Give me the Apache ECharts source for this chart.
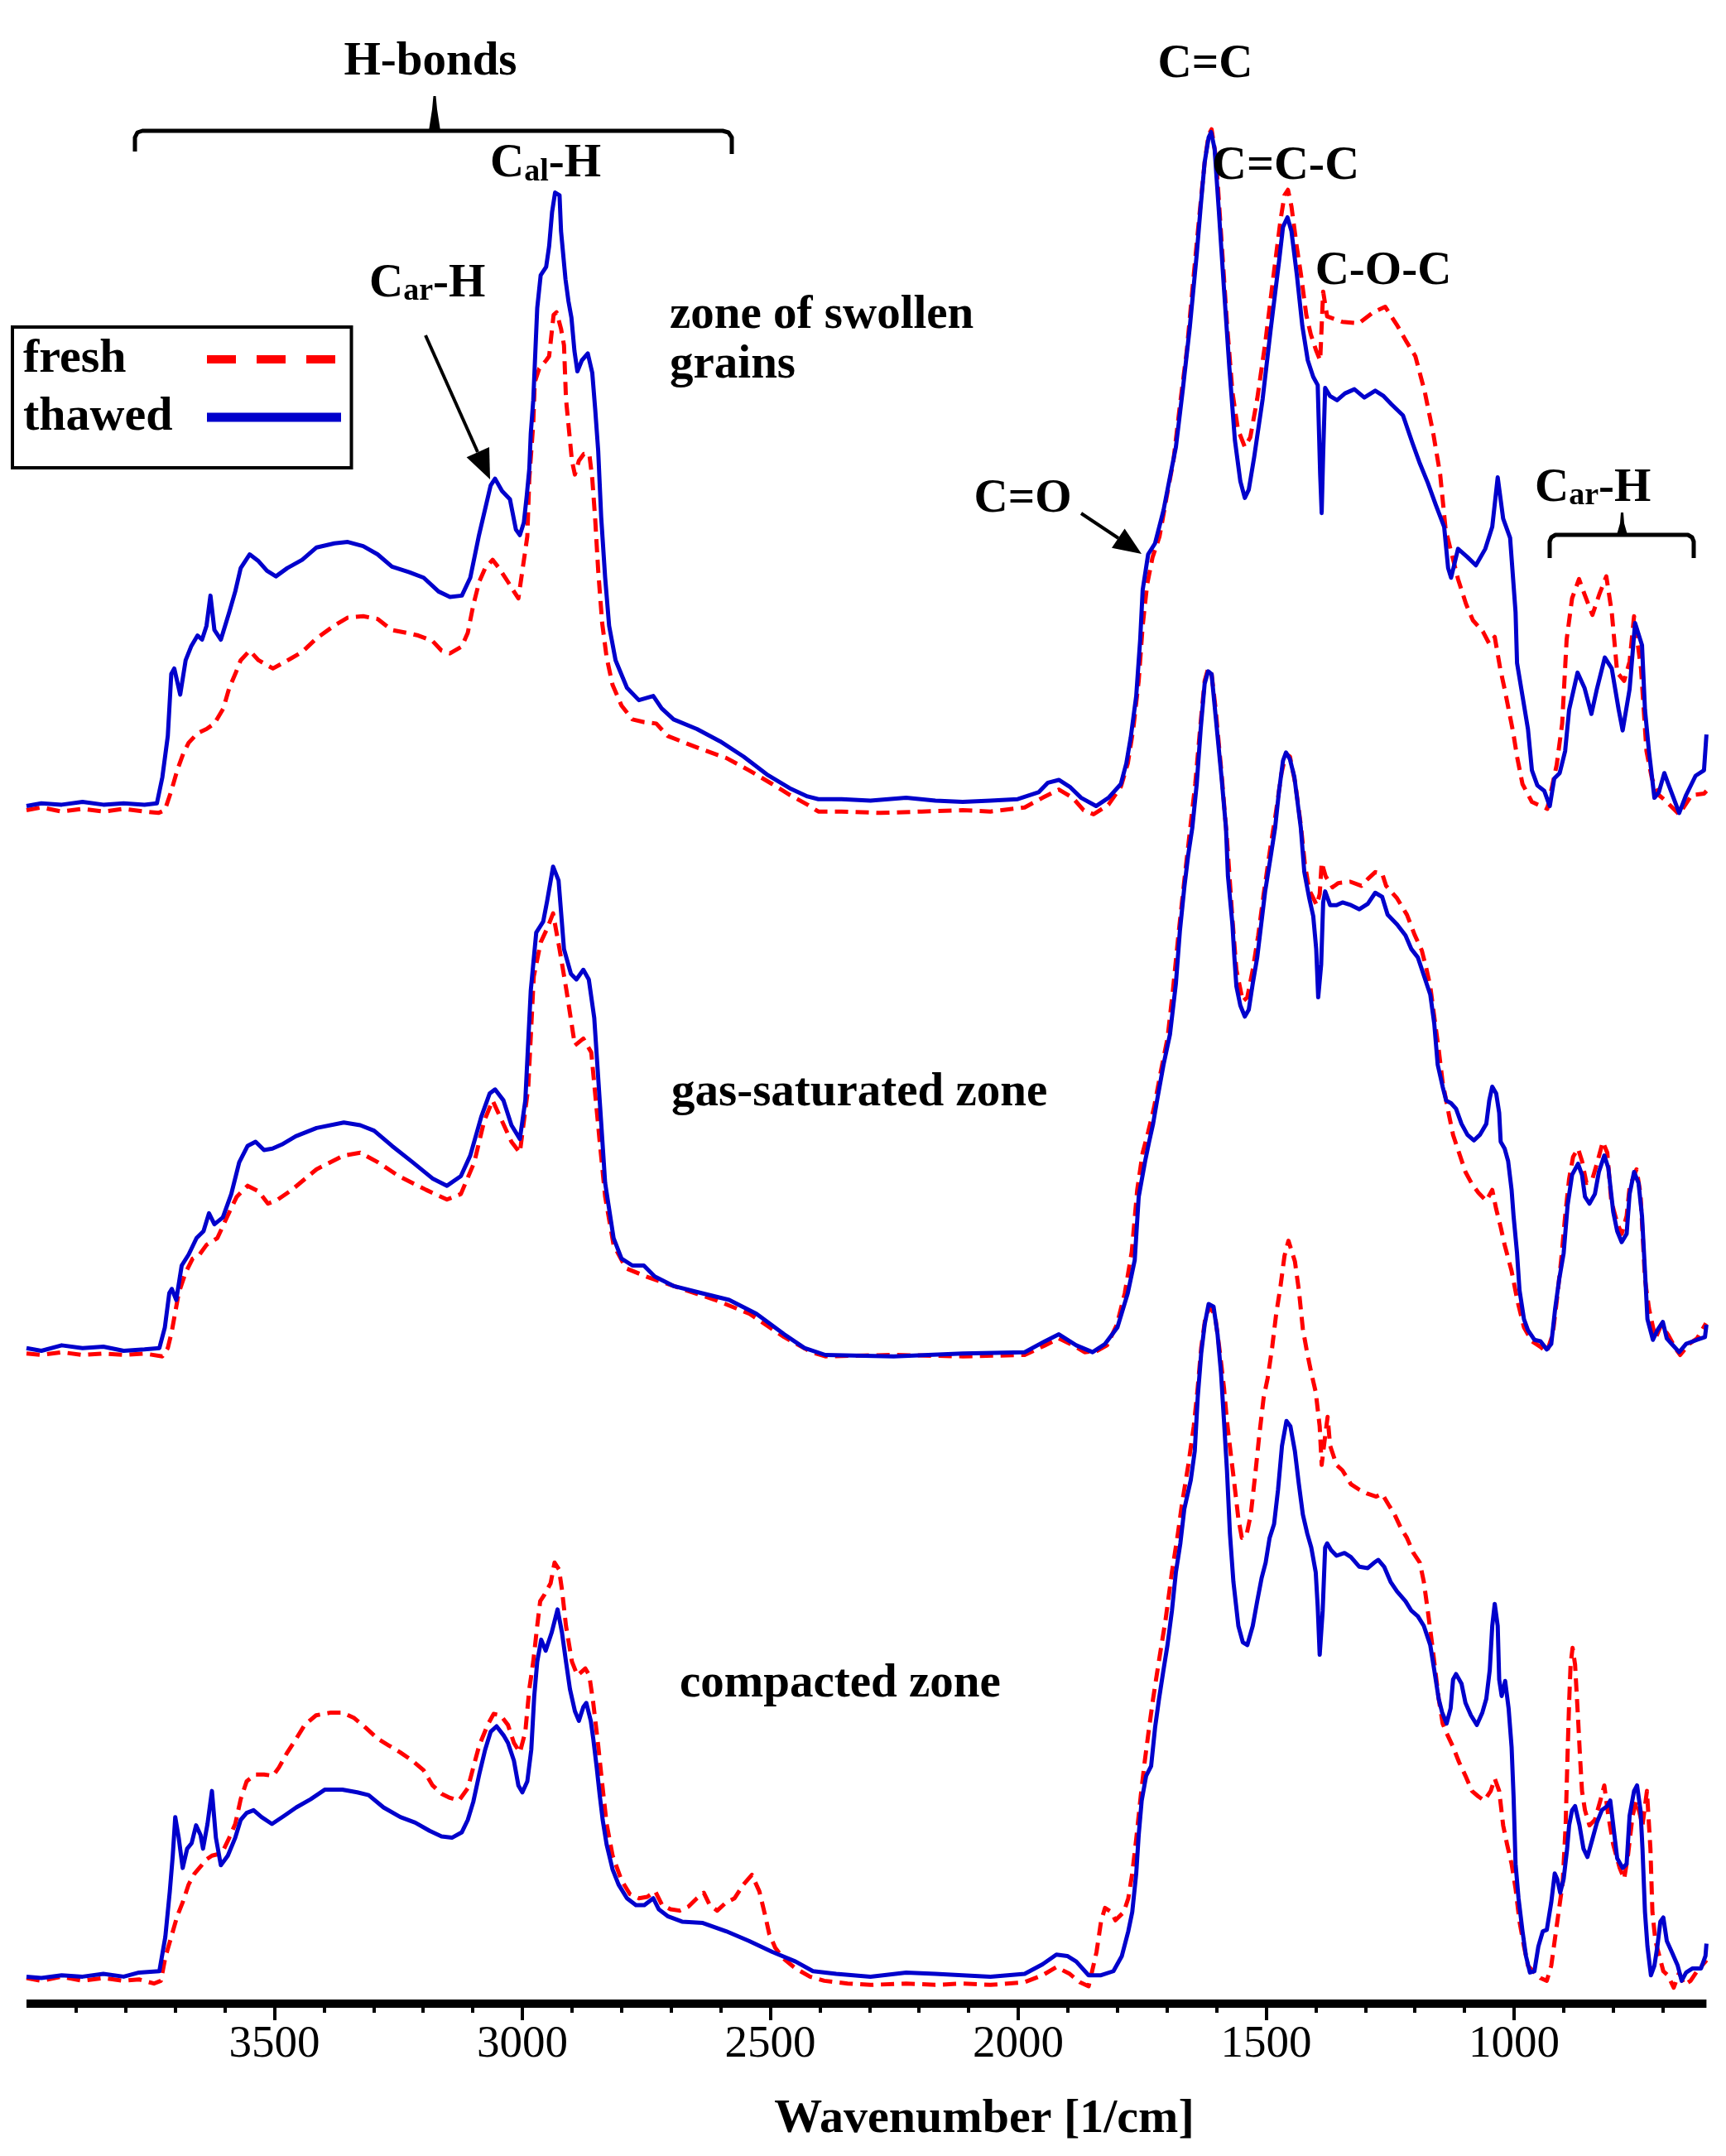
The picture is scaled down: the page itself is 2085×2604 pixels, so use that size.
<!DOCTYPE html>
<html><head><meta charset="utf-8">
<script src="https://cdn.jsdelivr.net/npm/echarts@6/dist/echarts.min.js"></script>
<style>html,body{margin:0;padding:0;background:#fff}#c{width:2085px;height:2604px}</style>
</head><body><div id="c"></div>
<script>
// ---- x axis ticks (wavenumber, 1/cm) ----
const majorTicks = [1000, 1500, 2000, 2500, 3000, 3500];
const minorTicks = [700, 800, 900, 1100, 1200, 1300, 1400, 1600, 1700, 1800, 1900, 2100, 2200, 2300, 2400, 2600, 2700, 2800, 2900, 3100, 3200, 3300, 3400, 3600, 3700, 3800, 3900];
const legendNames = ['fresh', 'thawed'];
const panelLabels = ['zone of swollen grains', 'gas-saturated zone', 'compacted zone'];

// ---- zone of swollen grains ----
const swollenFresh = [[4000,0.01],[3970,0.03],[3929,0.00],[3887,0.02],[3845,0.00],[3804,0.02],[3762,0.00],[3734,-0.01],[3721,0.01],[3708,0.15],[3696,0.30],[3684,0.42],[3673,0.50],[3655,0.57],[3637,0.60],[3621,0.64],[3603,0.75],[3591,0.90],[3579,1.00],[3568,1.10],[3550,1.17],[3532,1.10],[3503,1.04],[3468,1.11],[3444,1.16],[3415,1.26],[3380,1.35],[3352,1.41],[3321,1.42],[3292,1.40],[3263,1.32],[3234,1.30],[3210,1.28],[3181,1.24],[3163,1.17],[3146,1.15],[3122,1.20],[3110,1.30],[3099,1.50],[3087,1.67],[3075,1.77],[3060,1.83],[3047,1.77],[3029,1.67],[3017,1.60],[3008,1.55],[3000,1.75],[2990,2.00],[2986,2.42],[2978,2.82],[2975,3.12],[2966,3.22],[2952,3.28],[2946,3.31],[2940,3.51],[2937,3.61],[2931,3.63],[2922,3.51],[2916,3.39],[2912,3.00],[2900,2.55],[2894,2.45],[2886,2.55],[2876,2.60],[2865,2.60],[2859,2.42],[2853,2.12],[2847,1.75],[2839,1.37],[2830,1.12],[2818,0.92],[2800,0.77],[2778,0.67],[2754,0.65],[2730,0.64],[2707,0.55],[2672,0.50],[2636,0.45],[2589,0.39],[2543,0.30],[2496,0.20],[2460,0.12],[2425,0.05],[2403,0.00],[2356,0.00],[2278,-0.01],[2195,0.00],[2112,0.01],[2056,0.00],[1987,0.03],[1951,0.10],[1918,0.16],[1890,0.10],[1868,0.01],[1848,-0.02],[1818,0.05],[1793,0.18],[1779,0.35],[1768,0.60],[1757,0.95],[1749,1.35],[1740,1.65],[1729,1.85],[1715,2.00],[1701,2.28],[1687,2.55],[1674,2.95],[1660,3.35],[1646,3.90],[1635,4.32],[1624,4.72],[1616,4.92],[1610,4.96],[1601,4.75],[1590,4.15],[1579,3.55],[1568,3.05],[1557,2.78],[1543,2.65],[1532,2.72],[1518,3.00],[1502,3.40],[1485,3.90],[1471,4.30],[1463,4.48],[1456,4.52],[1449,4.40],[1438,4.10],[1430,3.91],[1419,3.61],[1410,3.47],[1399,3.35],[1391,3.28],[1385,3.78],[1377,3.60],[1346,3.56],[1313,3.55],[1284,3.63],[1260,3.67],[1235,3.53],[1216,3.41],[1199,3.31],[1180,3.05],[1163,2.75],[1149,2.45],[1138,2.05],[1127,1.89],[1113,1.69],[1097,1.51],[1083,1.39],[1063,1.31],[1050,1.22],[1039,1.27],[1028,1.04],[1019,0.89],[1002,0.58],[994,0.40],[983,0.20],[964,0.07],[933,0.02],[914,0.34],[903,0.64],[894,1.25],[883,1.55],[869,1.69],[858,1.58],[842,1.43],[828,1.58],[814,1.71],[803,1.45],[792,1.01],[778,0.95],[767,1.09],[758,1.42],[744,1.04],[733,0.44],[722,0.24],[708,0.12],[695,0.08],[667,-0.02],[642,0.12],[617,0.13],[612,0.15]];
const swollenThawed = [[4000,0.04],[3970,0.06],[3929,0.05],[3887,0.07],[3845,0.05],[3804,0.06],[3762,0.05],[3737,0.06],[3726,0.25],[3715,0.55],[3708,1.00],[3702,1.04],[3690,0.85],[3679,1.10],[3668,1.20],[3655,1.28],[3646,1.25],[3637,1.35],[3629,1.57],[3621,1.32],[3608,1.25],[3591,1.45],[3579,1.60],[3568,1.77],[3550,1.87],[3532,1.82],[3515,1.75],[3497,1.71],[3474,1.77],[3444,1.83],[3415,1.92],[3379,1.95],[3352,1.96],[3321,1.93],[3292,1.87],[3263,1.78],[3228,1.74],[3199,1.70],[3169,1.60],[3146,1.56],[3122,1.57],[3105,1.70],[3088,2.00],[3075,2.20],[3064,2.37],[3055,2.42],[3041,2.33],[3025,2.27],[3013,2.05],[3005,2.01],[2997,2.10],[2991,2.30],[2986,2.49],[2983,2.75],[2978,2.99],[2975,3.24],[2970,3.66],[2963,3.90],[2952,3.96],[2946,4.11],[2940,4.36],[2934,4.50],[2925,4.48],[2922,4.22],[2913,3.87],[2907,3.71],[2901,3.59],[2895,3.35],[2889,3.20],[2880,3.28],[2868,3.33],[2859,3.19],[2853,2.92],[2847,2.62],[2841,2.14],[2833,1.70],[2825,1.35],[2812,1.10],[2789,0.90],[2765,0.81],[2736,0.84],[2719,0.75],[2695,0.67],[2648,0.60],[2601,0.51],[2554,0.40],[2507,0.27],[2461,0.17],[2425,0.11],[2403,0.09],[2356,0.09],[2298,0.08],[2226,0.10],[2167,0.08],[2112,0.07],[2056,0.08],[2001,0.09],[1959,0.14],[1940,0.21],[1918,0.23],[1896,0.18],[1873,0.10],[1843,0.04],[1818,0.10],[1793,0.20],[1782,0.35],[1773,0.54],[1762,0.84],[1754,1.25],[1749,1.61],[1738,1.87],[1724,1.95],[1707,2.19],[1693,2.45],[1682,2.65],[1668,3.07],[1654,3.52],[1640,4.05],[1632,4.40],[1624,4.72],[1616,4.90],[1611,4.94],[1604,4.82],[1596,4.40],[1585,3.80],[1574,3.22],[1563,2.70],[1552,2.40],[1543,2.28],[1535,2.34],[1524,2.58],[1507,3.00],[1491,3.50],[1474,4.00],[1466,4.25],[1457,4.32],[1449,4.22],[1438,3.90],[1427,3.53],[1416,3.28],[1405,3.16],[1396,3.10],[1391,2.45],[1388,2.17],[1385,2.60],[1381,3.08],[1371,3.02],[1357,2.99],[1341,3.04],[1322,3.07],[1302,3.01],[1280,3.06],[1263,3.02],[1247,2.96],[1224,2.88],[1205,2.68],[1191,2.54],[1174,2.39],[1158,2.23],[1141,2.07],[1133,1.77],[1127,1.70],[1113,1.91],[1094,1.85],[1077,1.79],[1058,1.91],[1044,2.07],[1033,2.43],[1022,2.13],[1008,1.99],[997,1.45],[994,1.08],[983,0.84],[972,0.60],[964,0.30],[953,0.19],[939,0.15],[928,0.04],[919,0.24],[908,0.28],[897,0.44],[889,0.74],[872,1.01],[858,0.90],[844,0.71],[833,0.89],[817,1.12],[803,1.04],[789,0.74],[781,0.59],[767,0.89],[756,1.37],[742,1.21],[736,0.74],[728,0.44],[717,0.10],[708,0.14],[697,0.28],[689,0.20],[667,-0.01],[653,0.12],[634,0.26],[617,0.30],[612,0.56]];

// ---- gas-saturated zone ----
const gasFresh = [[4000,0.01],[3970,0.00],[3929,0.02],[3887,0.00],[3845,0.01],[3804,0.00],[3762,0.01],[3726,-0.01],[3715,0.05],[3707,0.17],[3693,0.45],[3679,0.60],[3665,0.70],[3651,0.73],[3637,0.80],[3615,0.85],[3596,1.00],[3576,1.15],[3554,1.23],[3532,1.19],[3513,1.10],[3493,1.13],[3465,1.20],[3415,1.35],[3360,1.45],[3327,1.47],[3291,1.40],[3249,1.30],[3194,1.20],[3152,1.13],[3124,1.17],[3097,1.40],[3077,1.70],[3060,1.85],[3041,1.70],[3022,1.55],[3005,1.47],[2988,1.95],[2977,2.75],[2963,3.00],[2950,3.10],[2938,3.21],[2925,2.95],[2911,2.65],[2894,2.25],[2877,2.30],[2861,2.20],[2844,1.55],[2833,1.15],[2816,0.80],[2791,0.63],[2750,0.57],[2694,0.50],[2611,0.40],[2542,0.30],[2472,0.13],[2417,0.02],[2389,-0.01],[2251,0.00],[2112,-0.01],[1987,0.00],[1946,0.07],[1918,0.12],[1884,0.06],[1866,0.02],[1841,0.03],[1821,0.07],[1801,0.22],[1785,0.45],[1771,0.75],[1760,1.20],[1749,1.47],[1738,1.62],[1726,1.80],[1713,2.05],[1699,2.30],[1688,2.65],[1677,3.05],[1665,3.45],[1654,3.80],[1643,4.15],[1632,4.60],[1624,4.90],[1617,4.99],[1610,4.95],[1602,4.70],[1590,4.23],[1579,3.75],[1568,3.17],[1560,2.80],[1547,2.57],[1538,2.60],[1527,2.80],[1516,3.05],[1505,3.35],[1491,3.70],[1480,3.95],[1469,4.23],[1460,4.37],[1452,4.35],[1441,4.15],[1430,3.85],[1422,3.57],[1413,3.38],[1406,3.33],[1398,3.27],[1392,3.35],[1388,3.58],[1380,3.48],[1366,3.40],[1355,3.43],[1330,3.44],[1308,3.41],[1295,3.46],[1280,3.51],[1266,3.50],[1258,3.41],[1236,3.32],[1216,3.20],[1200,3.05],[1186,2.94],[1177,2.81],[1169,2.68],[1161,2.46],[1152,2.22],[1144,1.98],[1131,1.74],[1123,1.60],[1111,1.47],[1098,1.33],[1086,1.25],[1072,1.18],[1056,1.12],[1044,1.20],[1036,1.06],[1027,0.93],[1019,0.80],[1005,0.61],[993,0.39],[980,0.20],[964,0.10],[947,0.06],[934,0.02],[922,0.15],[914,0.39],[905,0.69],[897,1.01],[889,1.28],[881,1.44],[871,1.50],[863,1.41],[854,1.25],[842,1.28],[833,1.39],[821,1.55],[812,1.47],[804,1.12],[792,0.96],[783,0.88],[773,1.01],[767,1.22],[753,1.35],[745,1.17],[736,0.55],[728,0.34],[715,0.12],[703,0.22],[690,0.15],[673,0.04],[665,0.00],[647,0.08],[631,0.12],[613,0.23]];
const gasThawed = [[4000,0.05],[3970,0.03],[3929,0.07],[3887,0.05],[3845,0.06],[3804,0.03],[3762,0.04],[3732,0.05],[3721,0.20],[3712,0.45],[3707,0.48],[3698,0.40],[3687,0.65],[3673,0.73],[3657,0.85],[3643,0.90],[3632,1.03],[3621,0.95],[3604,1.00],[3587,1.17],[3571,1.40],[3554,1.52],[3538,1.55],[3521,1.49],[3504,1.50],[3485,1.53],[3457,1.59],[3415,1.65],[3360,1.69],[3327,1.67],[3299,1.63],[3263,1.52],[3221,1.40],[3180,1.28],[3152,1.23],[3124,1.30],[3105,1.45],[3083,1.73],[3066,1.90],[3055,1.93],[3038,1.85],[3022,1.67],[3005,1.57],[2994,1.85],[2983,2.65],[2972,3.07],[2958,3.15],[2950,3.30],[2938,3.55],[2927,3.45],[2916,2.95],[2902,2.77],[2891,2.73],[2877,2.80],[2866,2.73],[2855,2.45],[2844,1.85],[2833,1.25],[2816,0.85],[2800,0.70],[2778,0.65],[2755,0.65],[2733,0.57],[2694,0.50],[2639,0.45],[2583,0.40],[2528,0.30],[2472,0.15],[2431,0.05],[2389,0.00],[2251,-0.01],[2112,0.01],[1987,0.02],[1946,0.10],[1918,0.15],[1883,0.07],[1850,0.02],[1825,0.08],[1800,0.20],[1779,0.45],[1765,0.69],[1757,1.15],[1744,1.41],[1736,1.55],[1728,1.68],[1720,1.85],[1707,2.11],[1694,2.33],[1682,2.70],[1674,3.08],[1665,3.40],[1657,3.64],[1649,3.83],[1640,4.15],[1632,4.55],[1624,4.88],[1617,4.97],[1610,4.95],[1602,4.65],[1590,4.20],[1581,3.83],[1577,3.48],[1568,3.13],[1564,2.89],[1560,2.68],[1552,2.54],[1543,2.46],[1535,2.51],[1527,2.70],[1518,2.89],[1510,3.13],[1502,3.37],[1491,3.62],[1482,3.83],[1474,4.10],[1466,4.32],[1460,4.38],[1452,4.33],[1443,4.20],[1430,3.83],[1423,3.51],[1413,3.32],[1405,3.19],[1399,2.95],[1395,2.60],[1389,2.84],[1385,3.29],[1381,3.37],[1371,3.27],[1358,3.27],[1346,3.29],[1329,3.27],[1312,3.24],[1295,3.28],[1280,3.36],[1266,3.33],[1255,3.20],[1236,3.13],[1219,3.05],[1207,2.95],[1194,2.89],[1182,2.76],[1169,2.62],[1161,2.41],[1154,2.11],[1144,1.95],[1137,1.85],[1127,1.83],[1117,1.79],[1106,1.68],[1094,1.60],[1081,1.56],[1069,1.60],[1056,1.68],[1050,1.85],[1044,1.95],[1036,1.90],[1030,1.76],[1027,1.55],[1019,1.50],[1012,1.41],[1005,1.20],[1001,1.01],[994,0.74],[989,0.47],[980,0.26],[972,0.18],[959,0.11],[947,0.10],[934,0.04],[925,0.08],[917,0.34],[909,0.55],[900,0.74],[892,1.09],[883,1.31],[871,1.39],[863,1.31],[857,1.15],[848,1.10],[837,1.17],[829,1.33],[818,1.45],[810,1.36],[800,1.04],[792,0.90],[783,0.82],[773,0.88],[767,1.17],[758,1.33],[749,1.25],[742,1.01],[736,0.61],[731,0.26],[720,0.11],[711,0.18],[700,0.24],[692,0.12],[682,0.08],[667,0.02],[653,0.08],[631,0.11],[615,0.13],[612,0.22]];

// ---- compacted zone ----
const compFresh = [[4000,0.04],[3970,0.02],[3929,0.05],[3887,0.02],[3845,0.04],[3804,0.02],[3773,0.03],[3743,0.00],[3729,0.02],[3720,0.19],[3708,0.34],[3696,0.49],[3685,0.59],[3673,0.72],[3661,0.80],[3649,0.85],[3638,0.90],[3626,0.93],[3614,0.94],[3603,0.97],[3591,1.06],[3579,1.16],[3568,1.34],[3556,1.47],[3538,1.52],[3521,1.52],[3503,1.51],[3491,1.57],[3474,1.68],[3456,1.78],[3439,1.88],[3416,1.95],[3386,1.97],[3363,1.97],[3339,1.93],[3316,1.86],[3292,1.78],[3269,1.73],[3246,1.68],[3222,1.62],[3199,1.55],[3181,1.44],[3163,1.38],[3146,1.35],[3128,1.33],[3110,1.42],[3099,1.57],[3087,1.73],[3070,1.88],[3058,1.96],[3044,1.95],[3029,1.88],[3017,1.75],[3005,1.68],[2994,1.83],[2986,2.14],[2978,2.34],[2970,2.60],[2964,2.78],[2955,2.83],[2943,2.91],[2935,3.06],[2926,3.01],[2920,2.86],[2912,2.60],[2900,2.34],[2889,2.24],[2873,2.29],[2865,2.24],[2857,2.04],[2847,1.73],[2838,1.42],[2830,1.16],[2818,0.93],[2800,0.75],[2783,0.65],[2765,0.62],[2748,0.63],[2732,0.67],[2718,0.57],[2701,0.54],[2683,0.53],[2665,0.56],[2648,0.62],[2634,0.66],[2622,0.57],[2607,0.53],[2589,0.59],[2572,0.62],[2554,0.72],[2537,0.79],[2522,0.67],[2510,0.49],[2502,0.36],[2490,0.26],[2473,0.18],[2449,0.11],[2420,0.05],[2391,0.02],[2344,0.00],[2298,-0.01],[2226,0.00],[2167,-0.01],[2112,0.00],[2056,-0.01],[1987,0.01],[1951,0.06],[1923,0.12],[1896,0.07],[1876,0.01],[1858,-0.02],[1842,0.23],[1833,0.45],[1825,0.55],[1812,0.52],[1804,0.46],[1787,0.52],[1778,0.62],[1770,0.80],[1762,1.05],[1753,1.36],[1745,1.61],[1736,1.86],[1728,2.07],[1716,2.35],[1703,2.64],[1690,2.99],[1678,3.27],[1670,3.48],[1657,3.77],[1646,4.05],[1638,4.33],[1631,4.62],[1623,4.83],[1614,4.92],[1603,4.86],[1593,4.58],[1585,4.33],[1579,4.09],[1571,3.84],[1564,3.63],[1556,3.38],[1549,3.24],[1539,3.27],[1531,3.41],[1522,3.70],[1514,3.98],[1505,4.26],[1497,4.40],[1488,4.62],[1480,4.86],[1471,5.07],[1463,5.29],[1455,5.40],[1442,5.25],[1434,5.04],[1426,4.76],[1417,4.58],[1409,4.44],[1400,4.30],[1392,4.05],[1388,3.77],[1381,3.98],[1376,4.12],[1371,3.91],[1358,3.77],[1346,3.73],[1329,3.63],[1312,3.59],[1295,3.56],[1278,3.54],[1266,3.56],[1253,3.48],[1241,3.41],[1228,3.31],[1216,3.24],[1203,3.13],[1190,3.06],[1182,2.92],[1174,2.71],[1165,2.46],[1159,2.28],[1152,2.07],[1144,1.89],[1136,1.82],[1123,1.72],[1111,1.61],[1098,1.51],[1085,1.40],[1072,1.36],[1060,1.33],[1047,1.40],[1039,1.49],[1030,1.40],[1022,1.15],[1014,1.01],[1005,0.87],[997,0.69],[989,0.45],[980,0.27],[972,0.13],[959,0.08],[947,0.04],[934,0.02],[925,0.13],[917,0.34],[909,0.55],[902,0.73],[896,1.15],[892,1.68],[889,2.04],[886,2.32],[882,2.44],[877,2.32],[871,1.93],[867,1.65],[863,1.40],[857,1.26],[848,1.15],[837,1.19],[826,1.33],[818,1.44],[810,1.22],[800,1.01],[787,0.84],[778,0.76],[770,0.94],[761,1.22],[753,1.33],[741,1.15],[732,1.40],[725,0.98],[721,0.52],[715,0.31],[707,0.20],[699,0.09],[690,0.06],[678,-0.03],[667,0.08],[657,-0.01],[644,0.02],[631,0.09],[614,0.16],[612,0.17]];
const compThawed = [[4000,0.05],[3970,0.04],[3929,0.06],[3887,0.05],[3845,0.07],[3804,0.05],[3773,0.08],[3732,0.09],[3720,0.34],[3711,0.67],[3705,0.93],[3700,1.21],[3693,1.06],[3685,0.84],[3676,0.98],[3667,1.02],[3658,1.15],[3649,1.08],[3644,0.98],[3635,1.16],[3626,1.40],[3618,1.06],[3608,0.86],[3594,0.93],[3579,1.06],[3568,1.19],[3556,1.24],[3542,1.26],[3526,1.21],[3505,1.16],[3480,1.22],[3456,1.28],[3427,1.34],[3398,1.41],[3363,1.41],[3333,1.39],[3310,1.37],[3280,1.28],[3246,1.21],[3216,1.17],[3187,1.11],[3163,1.07],[3142,1.06],[3122,1.10],[3110,1.19],[3099,1.32],[3087,1.52],[3075,1.70],[3064,1.83],[3052,1.87],[3037,1.80],[3029,1.75],[3017,1.62],[3008,1.44],[3000,1.39],[2990,1.47],[2982,1.70],[2976,2.09],[2970,2.34],[2962,2.50],[2953,2.42],[2941,2.55],[2929,2.72],[2920,2.55],[2912,2.34],[2904,2.14],[2894,1.98],[2886,1.91],[2877,2.01],[2871,2.04],[2862,1.91],[2857,1.78],[2850,1.57],[2844,1.37],[2838,1.19],[2830,1.01],[2818,0.83],[2806,0.72],[2789,0.62],[2771,0.57],[2754,0.57],[2736,0.62],[2725,0.54],[2707,0.49],[2678,0.45],[2636,0.44],[2589,0.38],[2543,0.31],[2496,0.23],[2449,0.16],[2414,0.09],[2367,0.07],[2298,0.05],[2226,0.08],[2167,0.07],[2112,0.06],[2056,0.05],[1987,0.07],[1951,0.14],[1923,0.21],[1901,0.20],[1883,0.16],[1858,0.06],[1833,0.06],[1808,0.09],[1791,0.20],[1778,0.38],[1770,0.52],[1762,0.80],[1757,1.08],[1751,1.33],[1742,1.51],[1732,1.58],[1724,1.86],[1716,2.07],[1707,2.28],[1699,2.46],[1690,2.71],[1682,2.99],[1673,3.20],[1665,3.45],[1652,3.66],[1644,3.87],[1638,4.26],[1631,4.58],[1624,4.79],[1616,4.94],[1606,4.92],[1598,4.72],[1591,4.44],[1585,4.09],[1579,3.73],[1573,3.27],[1566,2.92],[1556,2.60],[1547,2.48],[1538,2.46],[1527,2.60],[1518,2.78],[1509,2.95],[1501,3.06],[1493,3.24],[1484,3.34],[1476,3.59],[1468,3.91],[1459,4.09],[1451,4.05],[1442,3.87],[1434,3.63],[1426,3.41],[1417,3.27],[1409,3.17],[1400,2.99],[1396,2.74],[1392,2.39],[1386,2.71],[1381,3.17],[1377,3.20],[1369,3.15],[1358,3.11],[1342,3.13],[1329,3.10],[1312,3.03],[1295,3.02],[1282,3.06],[1274,3.08],[1262,3.03],[1249,2.92],[1236,2.85],[1219,2.78],[1207,2.71],[1194,2.67],[1182,2.60],[1169,2.46],[1161,2.28],[1152,2.07],[1145,1.97],[1136,1.89],[1128,2.00],[1123,2.21],[1117,2.25],[1106,2.18],[1098,2.04],[1087,1.95],[1075,1.88],[1064,1.97],[1056,2.07],[1049,2.28],[1044,2.60],[1039,2.76],[1033,2.60],[1030,2.21],[1025,2.09],[1018,2.20],[1011,2.00],[1005,1.72],[1001,1.36],[997,0.87],[991,0.62],[983,0.38],[976,0.20],[968,0.08],[959,0.09],[951,0.27],[942,0.38],[934,0.39],[925,0.59],[918,0.80],[913,0.76],[907,0.66],[900,0.76],[893,0.98],[889,1.15],[883,1.26],[877,1.29],[868,1.15],[860,0.98],[852,0.92],[842,1.05],[833,1.17],[823,1.26],[812,1.29],[806,1.33],[800,1.15],[792,0.91],[781,0.84],[773,0.87],[767,1.22],[758,1.40],[752,1.44],[745,1.26],[741,0.98],[736,0.52],[731,0.27],[724,0.06],[717,0.13],[711,0.27],[705,0.45],[699,0.48],[692,0.31],[682,0.23],[670,0.13],[662,0.02],[653,0.08],[640,0.11],[623,0.11],[614,0.20],[612,0.29]];

// ---- layout ----
const FONT = '"Liberation Serif", "Times New Roman", serif';
const X_MIN = 612, X_MAX = 4000;
const GRID_LEFT = 32, GRID_WIDTH = 2029.4;
const UNIT = 166.14;                 // px per intensity unit
const ZERO_Y = [980.2, 1636.5, 2395.7]; // pixel row of zero intensity in each panel
const Y_RANGE = [[-0.3, 5.2], [-0.3, 5.2], [-0.146, 5.6]];
const RED = '#ff0000', BLUE = '#0000cc';

const grids = [], xAxes = [], yAxes = [];
for (let i = 0; i < 3; i++) {
  const [mn, mx] = Y_RANGE[i];
  grids.push({ left: GRID_LEFT, width: GRID_WIDTH, top: ZERO_Y[i] - mx * UNIT, height: (mx - mn) * UNIT,
    containLabel: false, outerBoundsMode: 'none', show: false });
  yAxes.push({ type: 'value', gridIndex: i, min: mn, max: mx, show: false });
  xAxes.push({ type: 'value', gridIndex: i, min: X_MIN, max: X_MAX, inverse: true, show: i === 2,
    position: 'bottom',
    axisLine: { show: true, onZero: false, lineStyle: { color: '#000', width: 10, cap: 'butt' } },
    axisTick: { show: true, customValues: majorTicks, length: 20, lineStyle: { color: '#000', width: 4 } },
    axisLabel: { show: true, customValues: majorTicks, margin: 22, color: '#000', fontFamily: FONT, fontSize: 55,
      formatter: function (v) { return String(v); } },
    splitLine: { show: false } });
}
// minor tick axis over the bottom axis
xAxes.push({ type: 'value', gridIndex: 2, min: X_MIN, max: X_MAX, inverse: true, position: 'bottom',
  axisLine: { show: false, onZero: false },
  axisTick: { show: true, customValues: minorTicks, length: 11, lineStyle: { color: '#000', width: 4 } },
  axisLabel: { show: false }, splitLine: { show: false } });

const panelSeries = [[swollenFresh, swollenThawed], [gasFresh, gasThawed], [compFresh, compThawed]];
const series = [];
panelSeries.forEach((pair, i) => {
  series.push({ name: legendNames[0], type: 'line', xAxisIndex: i, yAxisIndex: i, data: pair[0],
    symbol: 'none', showSymbol: false, smooth: false, z: 2,
    lineStyle: { color: RED, width: 5, type: [16, 9], join: 'round' }, itemStyle: { color: RED } });
  series.push({ name: legendNames[1], type: 'line', xAxisIndex: i, yAxisIndex: i, data: pair[1],
    symbol: 'none', showSymbol: false, smooth: false, z: 3,
    lineStyle: { color: BLUE, width: 5, join: 'round' }, itemStyle: { color: BLUE } });
});

function txt(x, y, text, size, align) {
  return { type: 'text', x: x, y: y, z: 50, style: { text: text, fontFamily: FONT, fontSize: size || 57,
    fontWeight: 'bold', fill: '#000', align: align || 'center', verticalAlign: 'middle' } };
}
function subTxt(x, y, main, sub, rest) {
  return { type: 'text', x: x, y: y, z: 50, style: { text: '{c|' + main + '}{s|' + sub + '}{c|' + rest + '}',
    fill: '#000', align: 'left', verticalAlign: 'middle',
    rich: { c: { fontFamily: FONT, fontSize: 57, fontWeight: 'bold', lineHeight: 57, fill: '#000' },
            s: { fontFamily: FONT, fontSize: 38, fontWeight: 'bold', lineHeight: 30, verticalAlign: 'bottom', fill: '#000' } } } };
}
function poly(points, w) {
  return { type: 'polyline', z: 50, shape: { points: points }, style: { stroke: '#000', lineWidth: w || 5, fill: null, lineJoin: 'round' } };
}
function fillPoly(points) {
  return { type: 'polygon', z: 50, shape: { points: points }, style: { fill: '#000' } };
}

const graphics = [
  txt(520, 75, 'H-bonds'),
  poly([[163,183],[163,166],[166,160],[172,158],[873,158],[880,160],[884,166],[884,186]]),
  fillPoly([[518,158],[522,132],[523.5,116],[526.5,116],[528,132],[532,158]]),
  subTxt(592, 198.5, 'C', 'al', '-H'),
  subTxt(446, 343, 'C', 'ar', '-H'),
  poly([[514,405],[577,546]], 4),
  fillPoly([[592,579],[563.6,552.3],[591,540.1]]),
  txt(809, 381, panelLabels[0].split(' ').slice(0, 3).join(' '), 57, 'left'),
  txt(809, 441, panelLabels[0].split(' ').slice(3).join(' '), 57, 'left'),
  txt(811, 1320, panelLabels[1], 57, 'left'),
  txt(821, 2034, panelLabels[2], 57, 'left'),
  txt(1456, 78.5, 'C=C'),
  txt(1553, 201, 'C=C-C', 58),
  txt(1671, 328, 'C-O-C'),
  txt(1235.5, 603.5, 'C=O'),
  poly([[1306,620],[1351,650]], 4),
  fillPoly([[1379,669],[1343,661.7],[1358.6,638.5]]),
  subTxt(1854, 590, 'C', 'ar', '-H'),
  poly([[1872,674],[1872,654],[1874,649],[1879,646],[2039,646],[2044,649],[2046,654],[2046,674]]),
  fillPoly([[1953,646],[1957,632],[1958,619],[1961,619],[1962,632],[1966,646]]),
  txt(1189, 2560, 'Wavenumber [1/cm]', 58)
];

const chart = echarts.init(document.getElementById('c'), null, { renderer: 'canvas', width: 2085, height: 2604 });
chart.setOption({
  animation: false,
  backgroundColor: '#ffffff',
  grid: grids,
  xAxis: xAxes,
  yAxis: yAxes,
  legend: {
    show: true, orient: 'vertical', left: 15, top: 395, align: 'right', selectedMode: false,
    itemWidth: 162, itemHeight: 10, itemGap: 12,
    padding: [10, 7, 32, 13],
    borderColor: '#000', borderWidth: 4, backgroundColor: '#fff',
    data: [
      { name: legendNames[0], lineStyle: { color: RED, width: 10, type: [35, 25] }, itemStyle: { opacity: 0 } },
      { name: legendNames[1], lineStyle: { color: BLUE, width: 11, type: 'solid' }, itemStyle: { opacity: 0 } }
    ],
    formatter: function (n) { return '{t|' + n + '}'; },
    textStyle: { rich: { t: { width: 217, align: 'left', fontFamily: FONT, fontSize: 58, fontWeight: 'bold', lineHeight: 56, color: '#000' } } }
  },
  series: series,
  graphic: graphics
});
</script>
</body></html>
